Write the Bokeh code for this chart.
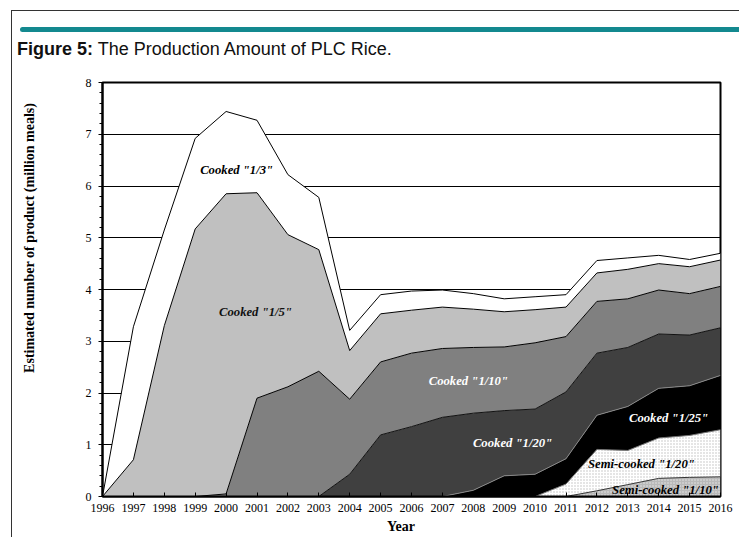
import numpy as np
from bokeh.plotting import figure
from bokeh.models import ColumnDataSource, Range1d, FixedTicker, SingleIntervalTicker, Label, Div
from bokeh.layouts import column, row
from bokeh.transform import stack
from bokeh.embed import file_html
from bokeh.resources import INLINE

# ---------------- data (million meals) ----------------
years = list(range(1996, 2017))
semi_cooked_1_10 = [0, 0, 0, 0, 0, 0, 0, 0, 0, 0, 0, 0, 0, 0, 0, 0, 0.11, 0.23, 0.35, 0.37, 0.38]
semi_cooked_1_20 = [0, 0, 0, 0, 0, 0, 0, 0, 0, 0, 0, 0, 0, 0, 0, 0.24, 0.80, 0.66, 0.78, 0.81, 0.91]
cooked_1_25 = [0, 0, 0, 0, 0, 0, 0, 0, 0, 0, 0, 0, 0.12, 0.40, 0.43, 0.49, 0.66, 0.85, 0.96, 0.96, 1.05]
cooked_1_20 = [0, 0, 0, 0, 0, 0, 0, 0, 0.43, 1.19, 1.35, 1.53, 1.49, 1.26, 1.26, 1.29, 1.20, 1.14, 1.05, 0.98, 0.92]
cooked_1_10 = [0, 0, 0, 0, 0.05, 1.90, 2.12, 2.42, 1.45, 1.41, 1.42, 1.33, 1.27, 1.23, 1.28, 1.07, 1.00, 0.94, 0.85, 0.80, 0.80]
cooked_1_5 = [0, 0.71, 3.30, 5.17, 5.80, 3.97, 2.94, 2.35, 0.94, 0.93, 0.83, 0.80, 0.74, 0.68, 0.64, 0.57, 0.55, 0.57, 0.51, 0.52, 0.51]
cooked_1_3 = [0, 2.57, 1.85, 1.75, 1.59, 1.40, 1.16, 1.01, 0.39, 0.37, 0.37, 0.33, 0.30, 0.25, 0.25, 0.24, 0.24, 0.22, 0.16, 0.14, 0.13]

series_names = ["semi10", "semi20", "c25", "c20", "c10", "c5", "c3"]
series_labels = ['Semi-cooked "1/10"', 'Semi-cooked "1/20"', 'Cooked "1/25"', 'Cooked "1/20"',
                 'Cooked "1/10"', 'Cooked "1/5"', 'Cooked "1/3"']
y_ticks = [0, 1, 2, 3, 4, 5, 6, 7, 8]

src = ColumnDataSource(dict(year=years, semi10=semi_cooked_1_10, semi20=semi_cooked_1_20,
                            c25=cooked_1_25, c20=cooked_1_20, c10=cooked_1_10,
                            c5=cooked_1_5, c3=cooked_1_3))

# ---------------- styles ----------------
fills = ["#b9b9b9", "#ffffff", "#000000", "#404040", "#808080", "#c0c0c0", "#ffffff"]
hatches = [".", ".", None, None, None, None, None]
hatch_cols = ["#e8e8e8", "#bdbdbd", None, None, None, None, None]
line_cols = ["#333333", "#777777", "#888888", "#111111", "#000000", "#000000", "#000000"]

serif = "Liberation Serif"

p = figure(width=661, height=450, output_backend="svg", toolbar_location=None,
           x_range=Range1d(1996, 2016), y_range=Range1d(0, 8),
           min_border_left=24, min_border_right=19, min_border_top=12, min_border_bottom=24,
           background_fill_color="white", border_fill_color="white")
p.outline_line_color = "black"
p.outline_line_width = 2

for i, name in enumerate(series_names):
    lower = stack(*series_names[:i]) if i > 0 else 0
    upper = stack(*series_names[:i + 1])
    kw = {}
    if hatches[i]:
        kw = dict(hatch_pattern=hatches[i], hatch_color=hatch_cols[i], hatch_scale=3, hatch_weight=1)
    p.varea(x="year", y1=lower, y2=upper, source=src, fill_color=fills[i], **kw)

for i, name in enumerate(series_names):
    upper = stack(*series_names[:i + 1])
    p.line(x="year", y=upper, source=src, line_color=line_cols[i], line_width=1)

# grid
p.xgrid.grid_line_color = None
p.ygrid.grid_line_color = "black"
p.ygrid.grid_line_width = 1
p.ygrid.ticker = FixedTicker(ticks=y_ticks)

# axes
p.xaxis.ticker = FixedTicker(ticks=years)
p.xaxis.major_tick_in = 4
p.xaxis.major_tick_out = 0
p.xaxis.minor_tick_line_color = None
p.xaxis.major_label_standoff = 7
p.yaxis.ticker = SingleIntervalTicker(interval=1, num_minor_ticks=5)
p.yaxis.major_tick_in = 0
p.yaxis.major_tick_out = 4
p.yaxis.minor_tick_in = 0
p.yaxis.minor_tick_out = 3
p.yaxis.major_label_standoff = 7
for ax in (p.xaxis, p.yaxis):
    ax.axis_line_width = 2
    ax.axis_line_color = "black"
    ax.major_tick_line_color = "black"
    ax.major_label_text_font = serif
    ax.major_label_text_font_size = "12px"
    ax.major_label_text_color = "black"

# area labels
label_pos = {
    "c3": (2000.34, 6.3, "black"),
    "c5": (2000.95, 3.57, "#111111"),
    "c10": (2007.84, 2.24, "white"),
    "c20": (2009.27, 1.04, "white"),
    "c25": (2014.32, 1.51, "white"),
    "semi20": (2013.44, 0.62, "black"),
    "semi10": (2014.22, 0.12, "black"),
}
for name, lab in zip(series_names, series_labels):
    x, y, col = label_pos[name]
    p.add_layout(Label(x=x, y=y, text=lab, text_align="center", text_baseline="middle",
                       text_font=serif, text_font_style="bold italic", text_font_size="12.7px",
                       text_color=col))

header_html = (
    '<div style="position:relative;width:739px;height:70px;overflow:hidden;">'
    '<div style="position:absolute;left:11px;top:10px;width:740px;height:80px;'
    'border-left:1px solid #333;border-top:1px solid #333;"></div>'
    '<div style="position:absolute;left:20px;top:27px;width:730px;height:5px;'
    'background:#13898f;border-radius:3px;"></div>'
    '<div style="position:absolute;left:17px;top:37px;white-space:nowrap;'
    "font-family:'Liberation Sans',Arial,sans-serif;font-size:18px;color:#111;\">"
    '<b>Figure 5:</b> The Production Amount of PLC Rice.</div>'
    '</div>')
header = Div(text=header_html, width=739, height=70, margin=0)

left_html = (
    '<div style="position:relative;width:78px;height:467px;overflow:hidden;">'
    '<div style="position:absolute;left:11px;top:0;height:467px;border-left:1px solid #333;"></div>'
    '<div style="position:absolute;left:30px;top:168px;transform:translate(-50%,-50%) rotate(-90deg);'
    "white-space:nowrap;font-family:'Liberation Serif',serif;font-weight:bold;font-size:14px;color:#000;\">"
    'Estimated number of product (million meals)</div>'
    '</div>')
left_panel = Div(text=left_html, width=78, height=467, margin=0)

year_html = (
    '<div style="position:relative;width:661px;height:17px;overflow:hidden;">'
    '<div style="position:absolute;left:323px;top:0;transform:translateX(-50%);line-height:14px;'
    "white-space:nowrap;font-family:'Liberation Serif',serif;font-weight:bold;font-size:14px;color:#000;\">"
    'Year</div>'
    '</div>')
year_panel = Div(text=year_html, width=661, height=17, margin=0)

layout = column(header, row(left_panel, column(p, year_panel, spacing=0), spacing=0), spacing=0)

open("out.html", "w").write(file_html(layout, INLINE))
